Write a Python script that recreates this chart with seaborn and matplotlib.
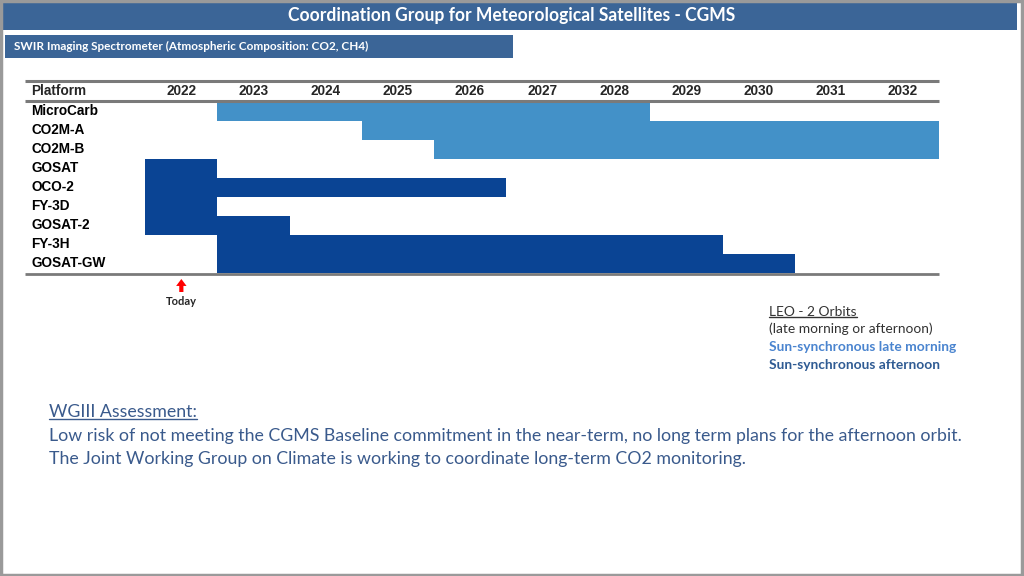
import numpy as np
import pandas as pd
import seaborn as sns
import matplotlib.pyplot as plt
from matplotlib.patches import Rectangle
from matplotlib.lines import Line2D

# chart data
platforms = ["MicroCarb", "CO2M-A", "CO2M-B", "GOSAT", "OCO-2", "FY-3D", "GOSAT-2", "FY-3H", "GOSAT-GW"]
start_year = [2023, 2025, 2026, 2022, 2022, 2022, 2022, 2023, 2023]
end_year = [2029, 2033, 2033, 2023, 2027, 2023, 2024, 2030, 2031]
orbit = ["late morning", "late morning", "late morning",
         "afternoon", "afternoon", "afternoon", "afternoon", "afternoon", "afternoon"]
years = [2022, 2023, 2024, 2025, 2026, 2027, 2028, 2029, 2030, 2031, 2032]
today_year = 2022.5

title = "Coordination Group for Meteorological Satellites - CGMS"
subtitle = "SWIR Imaging Spectrometer (Atmospheric Composition: CO2, CH4)"
legend_lines = ["LEO - 2 Orbits", "(late morning or afternoon)",
                "Sun-synchronous late morning", "Sun-synchronous afternoon"]
assessment_head = "WGIII Assessment:"
assessment_lines = [
    "Low risk of not meeting the CGMS Baseline commitment in the near-term, no long term plans for the afternoon orbit.",
    "The Joint Working Group on Climate is working to coordinate long-term CO2 monitoring.",
]

df = pd.DataFrame({"platform": platforms, "start": start_year, "end": end_year, "orbit": orbit})
df["dur"] = df["end"] - df["start"]
df["row"] = np.arange(len(df))

sns.set_theme(style="white")
plt.rcParams['font.family'] = ['Liberation Sans', 'DejaVu Sans']

colors = {"late morning": "#4391c8", "afternoon": "#0a4494"}
W, H = 1024, 576
fig = plt.figure(figsize=(W / 100, H / 100), dpi=100)
fig.patch.set_facecolor("white")

def px(x, y):
    return x / W, 1 - y / H

# title bar and subtitle bar
fig.patches.append(Rectangle(px(3, 30), 1014 / W, 30 / H, transform=fig.transFigure,
                             facecolor="#3b6597", edgecolor="none"))
fig.text(*px(512, 15), title, color="white", fontsize=12.65, fontweight="bold",
         family="Lato", ha="center", va="center")
fig.patches.append(Rectangle(px(5, 58), 508 / W, 23 / H, transform=fig.transFigure,
                             facecolor="#3b6597", edgecolor="none"))
fig.text(*px(14, 46.5), subtitle, color="white", fontsize=8.45, fontweight="bold",
         family="Lato", ha="left", va="center")
# frame of slide
fig.patches.append(Rectangle((0.001, 0.002), 0.997, 0.997, transform=fig.transFigure,
                             facecolor="none", edgecolor="#9a9a9a", lw=2.5))

# gantt axes: rows from y=102 to 273 px, x from 25 to 939 px
left_px, right_px, top_px, bot_px = 25, 939, 102, 273
ax = fig.add_axes([left_px / W, 1 - bot_px / H, (right_px - left_px) / W, (bot_px - top_px) / H])
px_per_year = 72
x0 = 2022 - (145 - left_px) / px_per_year
ax.set_xlim(x0, 2033)
ax.set_ylim(len(df) - 0.5, -0.5)
ax.axis("off")

ax.barh(df["row"], df["dur"], left=df["start"], height=1.0,
        color=[colors[o] for o in df["orbit"]], linewidth=0)

for r, name in zip(df["row"], df["platform"]):
    ax.text(x0 + 6 / px_per_year, r, name, ha="left", va="center",
            fontsize=9.8, fontweight="bold", color="black")

# header
row_h = 19
hdr_y = -0.5 - 10.5 / row_h
ax.text(x0 + 6 / px_per_year, hdr_y, "Platform", ha="left", va="center",
        fontsize=9.8, fontweight="bold", clip_on=False)
for yr in years:
    ax.text(yr + 0.5, hdr_y, str(yr), ha="center", va="center",
            fontsize=9.8, fontweight="bold", clip_on=False)
line_kw = dict(color="#7a7a7a", clip_on=False, solid_capstyle="butt")
ax.plot([x0, 2033], [-0.5 - 21 / row_h] * 2, lw=2.2, **line_kw)
ax.plot([x0, 2033], [-0.5 - 1 / row_h] * 2, lw=2.2, **line_kw)
ax.plot([x0, 2033], [len(df) - 0.5 + 1 / row_h] * 2, lw=2.0, **line_kw)

# today marker
ax.annotate("", xy=(today_year, len(df) - 0.5 + 6 / row_h),
            xytext=(today_year, len(df) - 0.5 + 19 / row_h),
            arrowprops=dict(width=3, headwidth=7.5, headlength=5, shrink=0,
                            color="#ff0000", lw=0), annotation_clip=False)
ax.text(today_year, len(df) - 0.5 + 29 / row_h, "Today", ha="center", va="center",
        fontsize=8, fontweight="bold", family="Lato", clip_on=False)

# legend text block
leg_colors = ["#333333", "#333333", "#4a84cf", "#2f5b93"]
leg_weights = ["normal", "normal", "bold", "bold"]
leg_y = [312, 329, 347, 365]
leg_texts = []
for t, c, w, y in zip(legend_lines, leg_colors, leg_weights, leg_y):
    leg_texts.append(fig.text(*px(769, y), t, color=c, fontweight=w, fontsize=9.95,
                              family="Lato", ha="left", va="center"))

# assessment block
body_color = "#3a5a8c"
head = fig.text(*px(49, 412), assessment_head, color=body_color, fontsize=12.8,
                family="Lato", ha="left", va="center")
for i, t in enumerate(assessment_lines):
    fig.text(*px(49, 436 + 23 * i), t, color=body_color, fontsize=12.8,
             family="Lato", ha="left", va="center")

# underlines
fig.canvas.draw()
renderer = fig.canvas.get_renderer()
for txt, col in [(leg_texts[0], "#333333"), (head, body_color)]:
    bb = txt.get_window_extent(renderer)
    yline = bb.y0 + 1.5
    fig.add_artist(Line2D([bb.x0 / W, bb.x1 / W], [yline / H, yline / H],
                          transform=fig.transFigure, color=col, lw=1))

fig.savefig("out.png", dpi=100)
